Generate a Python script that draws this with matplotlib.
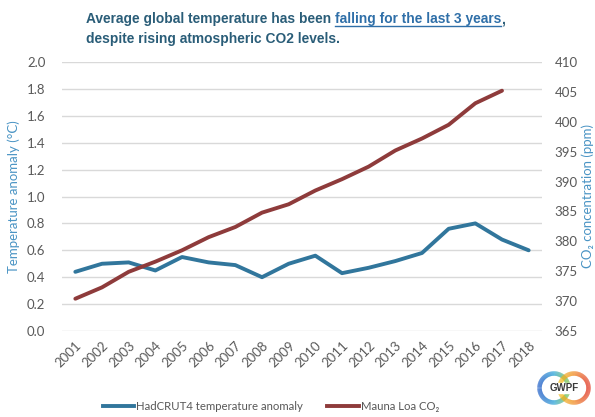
import matplotlib
matplotlib.use('Agg')
import matplotlib.pyplot as plt
import numpy as np
from matplotlib.collections import LineCollection
from matplotlib.colors import LinearSegmentedColormap

plt.rcParams['font.family'] = ['Lato', 'DejaVu Sans']

years = ['2001', '2002', '2003', '2004', '2005', '2006', '2007', '2008', '2009',
         '2010', '2011', '2012', '2013', '2014', '2015', '2016', '2017', '2018']
temp_anomaly = [0.44, 0.50, 0.51, 0.45, 0.55, 0.51, 0.49, 0.40, 0.50,
                0.56, 0.43, 0.47, 0.52, 0.58, 0.76, 0.80, 0.68, 0.60]
co2_ppm = [370.4, 372.3, 374.9, 376.6, 378.5, 380.7, 382.4, 384.8, 386.2,
           388.5, 390.4, 392.5, 395.2, 397.2, 399.5, 403.1, 405.2]

temp_ticks = [0.0, 0.2, 0.4, 0.6, 0.8, 1.0, 1.2, 1.4, 1.6, 1.8, 2.0]
co2_ticks = [365, 370, 375, 380, 385, 390, 395, 400, 405, 410]

blue = '#31769c'
red = '#8e3b3b'
grey = '#595959'
label_blue = '#4a94c4'
title_col = '#2a5d78'
link_col = '#2f6fa8'

fig = plt.figure(figsize=(5.95, 4.17), dpi=100)
ax = fig.add_axes([62/595, 1 - 331/417, 480/595, 269/417])
ax2 = ax.twinx()

x = np.arange(len(years))
ax.plot(x, temp_anomaly, color=blue, lw=2.8, solid_capstyle='round', zorder=3)
ax2.plot(x[:len(co2_ppm)], co2_ppm, color=red, lw=2.8, solid_capstyle='round', zorder=3)

ax.set_xlim(-0.5, len(years) - 0.5)
ax.set_ylim(0, 2.0)
ax.set_yticks(temp_ticks)
ax.set_yticklabels([f'{t:.1f}' for t in temp_ticks])
ax2.set_ylim(365, 410)
ax2.set_yticks(co2_ticks)

ax.set_xticks(x)
ax.set_xticklabels(years, rotation=45, ha='right', rotation_mode='anchor')
ax.grid(axis='y', color='#d9d9d9', lw=1.0)
ax.set_axisbelow(True)

for a in (ax, ax2):
    for s in a.spines.values():
        s.set_visible(False)
    a.tick_params(length=0, colors=grey, labelsize=9.5)
ax.tick_params(axis='y', pad=12)
ax2.tick_params(axis='y', pad=9)
ax.tick_params(axis='x', pad=6)

ax.set_ylabel('Temperature anomaly (°C)', color=label_blue, fontsize=9.5, labelpad=5)
ax2.set_ylabel('CO₂ concentration (ppm)', color=label_blue, fontsize=9.5, labelpad=3)

# legend below the axis
ax.plot([], [], color=blue, lw=2.8, label='HadCRUT4 temperature anomaly')
ax.plot([], [], color=red, lw=2.8, label='Mauna Loa CO₂')
leg = fig.legend(handles=ax.get_lines()[1:], loc='center', bbox_to_anchor=(0.455, 1 - 406/417),
                 ncol=2, frameon=False, fontsize=8.2, handlelength=2.8, handletextpad=0.15,
                 columnspacing=2.1)
for t in leg.get_texts():
    t.set_color(grey)

# title with underlined part, size fitted to the reference width
fig.canvas.draw()
r = fig.canvas.get_renderer()
W = fig.bbox.width
line1 = ['Average global temperature has been ', 'falling for the last 3 years', ',']
probe = fig.text(0, 0, ''.join(line1), fontsize=10, fontweight='bold', family='Liberation Sans')
fs = 10 * (418 / probe.get_window_extent(r).width)
probe.remove()

tkw = dict(fontsize=fs, fontweight='bold', family='Liberation Sans', va='baseline')
x0 = 86 / 595
y1 = 1 - 23 / 417
t1 = fig.text(x0, y1, line1[0], color=title_col, **tkw)
bb = t1.get_window_extent(r)
t2 = fig.text(bb.x1 / W, y1, line1[1], color=link_col, **tkw)
bb2 = t2.get_window_extent(r)
fig.text(bb2.x1 / W, y1, line1[2], color=title_col, **tkw)
uy = y1 - 2.5 / 417
fig.add_artist(plt.Line2D([bb2.x0 / W, bb2.x1 / W], [uy, uy],
                          color=link_col, lw=1.0, transform=fig.transFigure))
fig.text(x0, 1 - 43 / 417, 'despite rising atmospheric CO2 levels.', color=title_col, **tkw)

# GWPF logo
lax = fig.add_axes([536/595, 1 - 408/417, 56/595, 40/417])
lax.set_xlim(-28, 28)
lax.set_ylim(-20, 20)
lax.set_aspect('equal')
lax.axis('off')
th = np.linspace(0, 2 * np.pi, 200)
rad = 14.5
for cx, cols in [(-10, ['#1f5fc8', '#29a3d8', '#7cc443']), (10, ['#f3c21b', '#f18a22', '#e23b26'])]:
    cmap = LinearSegmentedColormap.from_list('ring', cols)
    px = cx + rad * np.cos(th)
    py = rad * np.sin(th)
    pts = np.array([px, py]).T.reshape(-1, 1, 2)
    segs = np.concatenate([pts[:-1], pts[1:]], axis=1)
    lc = LineCollection(segs, colors=cmap((px[:-1] - (cx - rad)) / (2 * rad)), lw=3.2)
    lax.add_collection(lc)
lax.add_patch(plt.Rectangle((-13, -5), 26, 10, color='white', zorder=2))
lax.text(0, 0, 'GWPF', ha='center', va='center', fontsize=7, fontweight='bold',
         color='#3a3a3a', family='Liberation Sans', zorder=3)

fig.savefig('out.png', dpi=100)
